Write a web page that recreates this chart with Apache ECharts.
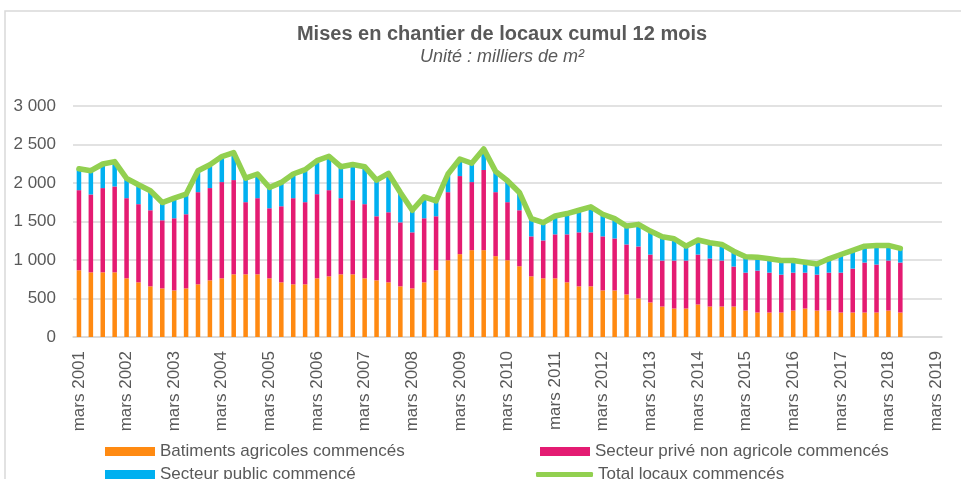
<!DOCTYPE html>
<html>
<head>
<meta charset="utf-8">
<script src="https://cdn.jsdelivr.net/npm/echarts@6/dist/echarts.min.js"></script>
<style>
  html, body { margin: 0; padding: 0; background: #fff; }
  #chart { width: 961px; height: 479px; }
</style>
</head>
<body>
<div id="chart"></div>
<script>
// trimestres, de mars 2001 à mars 2019
let categories = [
  'mars 2001', 'juin 2001', 'sept. 2001', 'déc. 2001', 'mars 2002', 'juin 2002', 'sept. 2002', 'déc. 2002',
  'mars 2003', 'juin 2003', 'sept. 2003', 'déc. 2003', 'mars 2004', 'juin 2004', 'sept. 2004', 'déc. 2004',
  'mars 2005', 'juin 2005', 'sept. 2005', 'déc. 2005', 'mars 2006', 'juin 2006', 'sept. 2006', 'déc. 2006',
  'mars 2007', 'juin 2007', 'sept. 2007', 'déc. 2007', 'mars 2008', 'juin 2008', 'sept. 2008', 'déc. 2008',
  'mars 2009', 'juin 2009', 'sept. 2009', 'déc. 2009', 'mars 2010', 'juin 2010', 'sept. 2010', 'déc. 2010',
  'mars 2011', 'juin 2011', 'sept. 2011', 'déc. 2011', 'mars 2012', 'juin 2012', 'sept. 2012', 'déc. 2012',
  'mars 2013', 'juin 2013', 'sept. 2013', 'déc. 2013', 'mars 2014', 'juin 2014', 'sept. 2014', 'déc. 2014',
  'mars 2015', 'juin 2015', 'sept. 2015', 'déc. 2015', 'mars 2016', 'juin 2016', 'sept. 2016', 'déc. 2016',
  'mars 2017', 'juin 2017', 'sept. 2017', 'déc. 2017', 'mars 2018', 'juin 2018', 'sept. 2018', 'déc. 2018',
  'mars 2019'
]

// milliers de m², cumul 12 mois
let agricoles = [
  867, 840, 840, 840, 762, 710, 658, 631, 605, 631, 684, 736, 762, 814, 814, 814,
  762, 710, 684, 684, 762, 788, 814, 814, 762, 736, 710, 658, 631, 710, 867, 997,
  1076, 1128, 1128, 1050, 997, 919, 788, 762, 762, 710, 658, 658, 605, 605, 553, 501,
  449, 396, 370, 370, 422, 396, 396, 396, 344, 318, 318, 318, 344, 370, 344, 344,
  318, 318, 318, 318, 344, 318
]
let prives = [
  1040, 1011, 1094, 1115, 1041, 1015, 988, 885, 937, 963, 1197, 1198, 1250, 1224, 937, 989,
  910, 988, 1119, 1067, 1093, 1119, 989, 963, 963, 832, 910, 831, 728, 832, 701, 884,
  1014, 884, 1041, 831, 754, 727, 519, 492, 571, 623, 701, 701, 702, 675, 649, 675,
  622, 597, 623, 623, 649, 623, 597, 519, 492, 544, 518, 492, 492, 466, 466, 492,
  518, 570, 649, 623, 649, 649
]
let publics = [
  278, 309, 313, 323, 257, 252, 253, 230, 261, 261, 279, 304, 331, 357, 313, 314,
  270, 310, 314, 422, 436, 440, 409, 463, 487, 470, 505, 388, 287, 278, 200, 236,
  222, 244, 274, 270, 278, 231, 230, 231, 239, 270, 287, 331, 287, 257, 239, 287,
  305, 309, 283, 187, 188, 205, 209, 200, 205, 175, 179, 183, 157, 135, 139, 179,
  235, 236, 213, 248, 196, 183
]
let totaux = [
  2185, 2160, 2247, 2278, 2060, 1977, 1899, 1746, 1803, 1855, 2160, 2238, 2343, 2395, 2064, 2117,
  1942, 2008, 2117, 2173, 2291, 2347, 2212, 2240, 2212, 2038, 2125, 1877, 1646, 1820, 1768, 2117,
  2312, 2256, 2443, 2151, 2029, 1877, 1537, 1485, 1572, 1603, 1646, 1690, 1594, 1537, 1441, 1463,
  1376, 1302, 1276, 1180, 1259, 1224, 1202, 1115, 1041, 1037, 1015, 993, 993, 971, 949, 1015,
  1071, 1124, 1180, 1189, 1189, 1150
]

let font = '"Liberation Sans", Arial, sans-serif'
let gris = '#595959'

// une légende par entrée, placées comme dans l'original (2 colonnes)
let legendItem = (name, left, top, extra) => Object.assign({
  left: left,
  top: top,
  padding: 0,
  icon: 'rect',
  itemWidth: 50,
  itemHeight: 9,
  itemGap: 0,
  textStyle: { fontFamily: font, fontSize: 17, color: gris },
  data: [name]
}, extra || {})

let myChart = echarts.init(document.getElementById('chart'))

let options = {
  animation: false,
  // cadre du graphique
  graphic: [{
    type: 'rect',
    shape: { x: 5, y: 11, width: 1000, height: 500 },
    style: { fill: 'none', stroke: '#d9d9d9', lineWidth: 1.5 },
    silent: true
  }],
  title: {
    text: 'Mises en chantier de locaux cumul 12 mois',
    subtext: 'Unité : milliers de m²',
    left: 497,
    top: 19,
    textAlign: 'center',
    itemGap: 4,
    textStyle: { fontFamily: font, fontSize: 20, fontWeight: 'bold', color: gris },
    subtextStyle: { fontFamily: font, fontSize: 18, fontStyle: 'italic', color: gris }
  },
  legend: [
    legendItem('Batiments agricoles commencés', 105, 443),
    legendItem('Secteur public commencé', 105, 466),
    legendItem('Secteur privé non agricole commencés', 540, 443),
    legendItem('Total locaux commencés', 536, 466, {
      itemWidth: 57,
      itemHeight: 5,
      icon: 'roundRect'
    })
  ],
  grid: { left: 73, right: 19, top: 106, bottom: 142 },
  xAxis: {
    type: 'category',
    data: categories,
    boundaryGap: true,
    axisLine: { lineStyle: { color: '#d9d9d9', width: 1.5 } },
    axisTick: { show: false },
    axisLabel: {
      interval: 3,
      rotate: 90,
      margin: 14,
      fontFamily: font,
      fontSize: 17,
      color: gris
    }
  },
  yAxis: {
    type: 'value',
    min: 0,
    max: 3000,
    interval: 500,
    axisLine: { show: false },
    axisTick: { show: false },
    splitLine: { lineStyle: { color: '#d9d9d9', width: 1.5 } },
    axisLabel: {
      margin: 17,
      fontFamily: font,
      fontSize: 17,
      color: gris,
      formatter: v => String(v).replace(/\B(?=(\d{3})+(?!\d))/g, ' ')
    }
  },
  series: [
    {
      name: 'Batiments agricoles commencés',
      type: 'bar',
      stack: 'locaux',
      barWidth: '38%',
      itemStyle: { color: '#ff8a12' },
      data: agricoles
    },
    {
      name: 'Secteur privé non agricole commencés',
      type: 'bar',
      stack: 'locaux',
      barWidth: '38%',
      itemStyle: { color: '#e41b72' },
      data: prives
    },
    {
      name: 'Secteur public commencé',
      type: 'bar',
      stack: 'locaux',
      barWidth: '38%',
      itemStyle: { color: '#00b0f0' },
      data: publics
    },
    {
      name: 'Total locaux commencés',
      type: 'line',
      symbol: 'none',
      z: 5,
      itemStyle: { color: '#92d050' },
      lineStyle: { color: '#92d050', width: 5.5, cap: 'round', join: 'round' },
      data: totaux
    }
  ]
}

myChart.setOption(options)
</script>
</body>
</html>
